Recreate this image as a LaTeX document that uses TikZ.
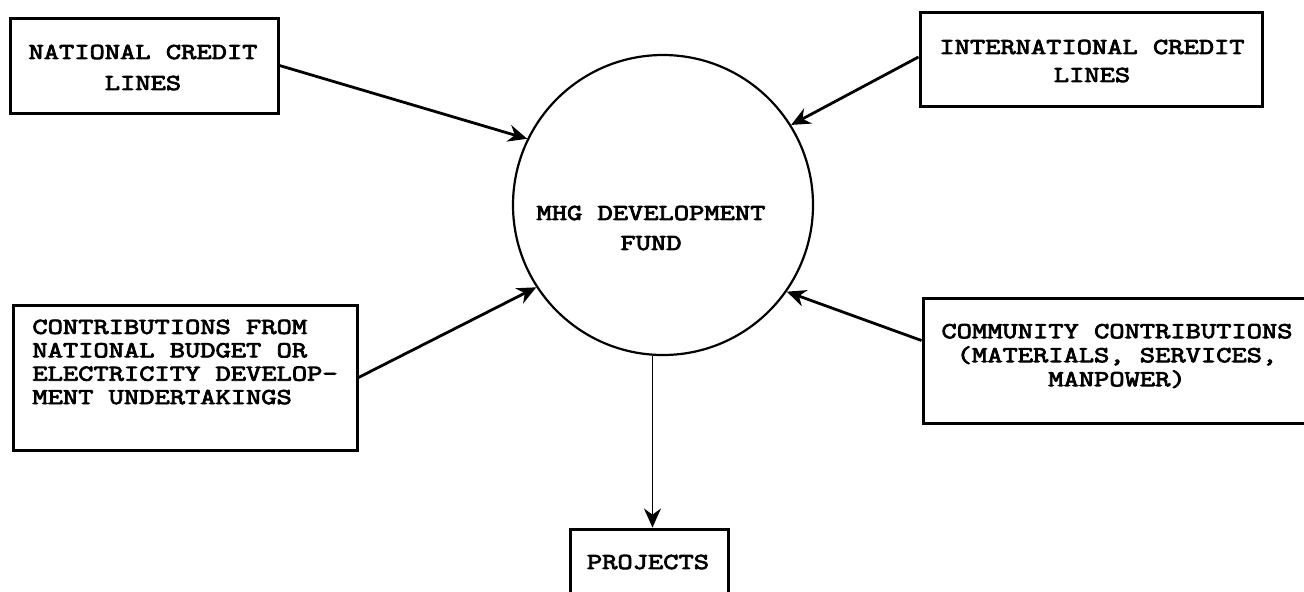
\documentclass[tikz,border=0pt]{standalone}
\usepackage{fontspec}
\setmainfont{Latin Modern Mono}[FakeStretch=1.3,FakeBold=3.5]
\usetikzlibrary{arrows.meta}
\begin{document}
\begin{tikzpicture}[x=0.5pt,y=-0.5pt,
  txt/.style={font=\fontsize{11.4}{15}\selectfont, inner sep=0pt, align=center},
  box/.style={draw, line width=1.5pt, inner sep=0pt},
  arr/.style={line width=1.4pt, -{Stealth[length=9.5pt,width=8.5pt]}}]
\useasboundingbox (0,0) rectangle (1304,591);
\node[box, minimum width=134pt, minimum height=47.5pt] (ncl) at (144,65.5) {};
\node[txt, font=\fontsize{11.4}{15.5}\selectfont] (nclt) at (143,67.5) {NATIONAL CREDIT\\LINES};
\node[box, minimum width=171pt, minimum height=47pt] (icl) at (1091,59) {};
\node[txt, font=\fontsize{11.4}{14}\selectfont] (iclt) at (1092,61) {INTERNATIONAL CREDIT\\LINES};
\node[box, minimum width=172pt, minimum height=72.5pt] (cb) at (185,377.5) {};
\node[txt, align=left, anchor=west, font=\fontsize{11.4}{11.7}\selectfont] (cbt) at (32,362) {CONTRIBUTIONS FROM\\NATIONAL BUDGET OR\\ELECTRICITY DEVELOP-\\MENT UNDERTAKINGS};
\node[box, minimum width=193.5pt, minimum height=62.5pt] (cc) at (1116.5,360.5) {};
\node[txt, font=\fontsize{11.4}{12}\selectfont] (cct) at (1117,356) {COMMUNITY CONTRIBUTIONS\\(MATERIALS, SERVICES,\\MANPOWER)};
\node[draw, circle, line width=1.1pt, minimum size=150pt, inner sep=0pt] (fund) at (663,205) {};
\node[txt, font=\fontsize{11.4}{15}\selectfont] (fundt) at (651,228) {MHG DEVELOPMENT\\FUND};
\node[box, minimum width=79pt, minimum height=35.5pt] (proj) at (649,564.5) {};
\node[txt] (projt) at (648,562) {PROJECTS};
\draw[arr] (ncl.east) -- (fund.154);
\draw[arr] ([yshift=1pt]icl.west) -- (fund.32);
\draw[arr] (cb.east) -- (fund.213);
\draw[arr] ([yshift=10pt]cc.west) -- (fund.325);
\draw[arr, line width=0.9pt] (fund.266) -- (fund.266 |- proj.north);
\end{tikzpicture}
\end{document}
